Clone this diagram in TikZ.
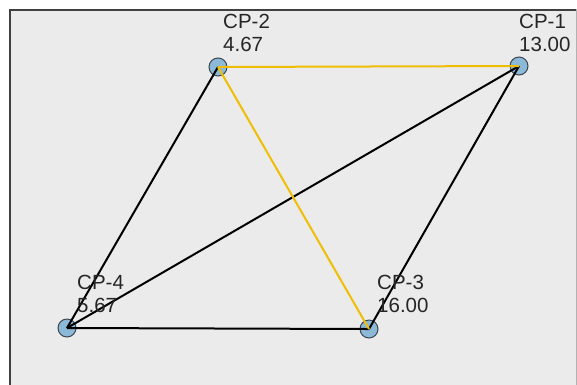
\documentclass[tikz,border=0pt]{standalone}
\usepackage{fontspec}
\setmainfont{Liberation Sans}
\definecolor{panel}{RGB}{235,235,235}
\definecolor{gold}{RGB}{240,190,0}
\definecolor{dotfill}{RGB}{140,185,215}
\definecolor{dotline}{RGB}{60,70,80}
\begin{document}
\begin{tikzpicture}[x=1pt,y=-1pt,
  dot/.style={circle,draw=dotline,line width=1pt,fill=dotfill,minimum size=18pt,inner sep=0pt},
  lbl/.style={anchor=base west,inner sep=0pt,font=\fontsize{20.5}{20.5}\selectfont,text=black!85},
  blk/.style={draw=black,line width=2pt},
  yel/.style={draw=gold,line width=2pt}]
\useasboundingbox (0,0) rectangle (577,384);
\fill[white] (0,0) rectangle (577,384);
\fill[panel] (9,9) rectangle (576,390);
\draw[black!30,line width=1pt] (576,9) -- (576,390);
\draw[black!75,line width=2pt] (9.5,390) -- (9.5,9.5) -- (576,9.5);
% points
\node[dot] (p2) at (218,67) {};
\node[dot] (p1) at (519,66) {};
\node[dot] (p4) at (67,328) {};
\node[dot] (p3) at (369,329) {};
% edges
\draw[blk] (p2.center) -- (p4.center);
\draw[blk] (p1.center) -- (p4.center);
\draw[blk] (p1.center) -- (p3.center);
\draw[blk] (p4.center) -- (p3.center);
\draw[yel] (p2.center) -- (p1.center);
\draw[yel] (p2.center) -- (p3.center);
% labels
\node[lbl] (t2a) at (223,28) {CP-2};
\node[lbl] (t2b) at (223,51) {4.67};
\node[lbl] (t1a) at (519,28) {CP-1};
\node[lbl] (t1b) at (519,51) {13.00};
\node[lbl] (t4a) at (77,289) {CP-4};
\node[lbl] (t4b) at (77,312) {5.67};
\node[lbl] (t3a) at (377,289) {CP-3};
\node[lbl] (t3b) at (377,312) {16.00};
\end{tikzpicture}
\end{document}
